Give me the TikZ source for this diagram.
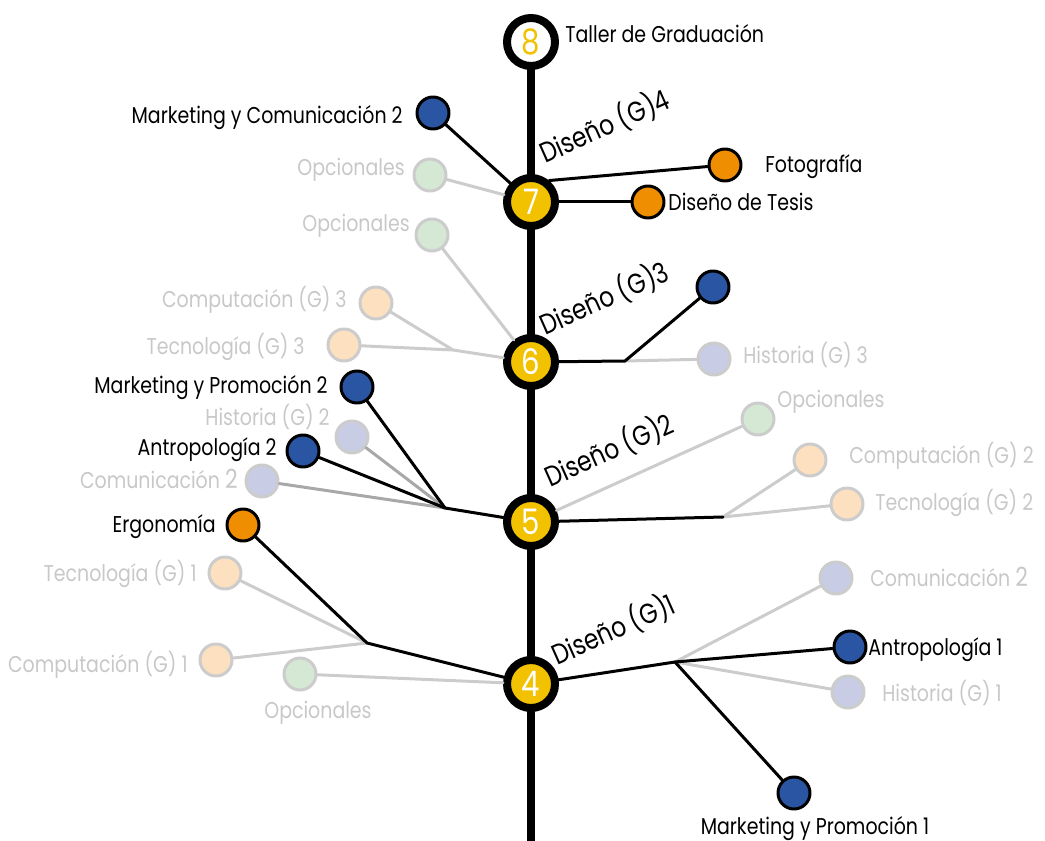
\documentclass[tikz,border=0pt]{standalone}
\usepackage{fontspec}
\setmainfont{Poppins}[FakeStretch=0.83]
\definecolor{amarillo}{HTML}{F2C200}
\definecolor{naranja}{HTML}{EE8E00}
\definecolor{azul}{HTML}{2A55A2}
\definecolor{verdeT}{HTML}{D5E8D4}
\definecolor{durazT}{HTML}{FCE0BF}
\definecolor{lilaT}{HTML}{C8CCE4}
\definecolor{grisL}{HTML}{CCCCCC}
\definecolor{grisT}{HTML}{C8C8C8}
\definecolor{grisM}{HTML}{A8A8A8}
\tikzset{
  semestre/.style={circle,draw=black,line width=0.16cm,fill=amarillo,minimum size=0.96cm,
    inner sep=0pt,text=white,font=\fontsize{20}{20}\selectfont},
  final/.style={semestre,fill=white,text=amarillo},
  activo/.style={circle,draw=black,line width=0.06cm,fill=#1,minimum size=0.64cm,inner sep=0pt},
  inactivo/.style={circle,draw=grisL,line width=0.06cm,fill=#1,minimum size=0.64cm,inner sep=0pt},
  negro/.style={inner sep=0pt,text=black,font=\fontsize{13}{15}\selectfont},
  tenue/.style={negro,text=grisT},
  diseno/.style={negro,rotate=24,anchor=base west,font=\fontsize{16}{18}\selectfont},
  tronco/.style={line width=0.16cm},
  rama/.style={line width=0.06cm},
  ramaT/.style={rama,draw=grisL},
  ramaM/.style={rama,draw=grisM}
}
\newcommand{\dos}{{\fontsize{15}{15}\selectfont 2}}

\begin{document}
\begin{tikzpicture}[x=0.02cm,y=-0.02cm,line cap=round,line join=round]
  \useasboundingbox (0,0) rectangle (1045,841);
  % semestres
  \node[final] (s8) at (531,42) {8};
  \node[semestre] (s7) at (531,202) {7};
  \node[semestre] (s6) at (531,362) {6};
  \node[semestre] (s5) at (531,522) {5};
  \node[semestre] (s4) at (531,684) {4};
  \coordinate (pie) at (531,841);
  \draw[tronco] (s8) -- (s7);
  \draw[tronco] (s7) -- (s6);
  \draw[tronco] (s6) -- (s5);
  \draw[tronco] (s5) -- (s4);
  \draw[tronco] (s4) -- (pie);

  % septimo
  \node[activo=azul] (mc2) at (433,113) {};
  \node[activo=naranja] (foto) at (725,165) {};
  \node[activo=naranja] (tesis) at (648,202) {};
  \node[inactivo=verdeT] (op7) at (430,175) {};
  \draw[ramaT] (op7) -- (s7);
  \draw[rama] (mc2) -- (s7);
  \draw[rama] (s7.50) -- (foto);
  \draw[rama] (s7) -- (tesis);

  % sexto
  \node[inactivo=verdeT] (op6) at (432,235) {};
  \node[inactivo=durazT] (cp3) at (376,303) {};
  \node[inactivo=durazT] (tc3) at (344,345) {};
  \node[activo=azul] (d6) at (713,287) {};
  \node[inactivo=lilaT] (hs3) at (714,359) {};
  \coordinate (j6l) at (453,350);
  \coordinate (j6r) at (625,361);
  \draw[ramaT] (op6) -- (s6);
  \draw[ramaT] (cp3) -- (j6l);
  \draw[ramaT] (tc3) -- (j6l) -- (s6);
  \draw[ramaT] (j6r) -- (hs3);
  \draw[rama] (s6) -- (j6r) -- (d6);

  % quinto
  \node[activo=azul] (mp2) at (357,387) {};
  \node[inactivo=lilaT] (hs2) at (352,437) {};
  \node[activo=azul] (an2) at (303,451) {};
  \node[inactivo=lilaT] (cm2) at (262,481) {};
  \node[inactivo=verdeT] (op5) at (758,419) {};
  \node[inactivo=durazT] (cp2) at (810,460) {};
  \node[inactivo=durazT] (tc2) at (847,504) {};
  \coordinate (j5l) at (445,508);
  \coordinate (j5r) at (723,517);
  \draw[ramaM] (hs2) -- (j5l);
  \draw[ramaM] (cm2) -- (j5l);
  \draw[rama] (mp2) -- (j5l);
  \draw[rama] (an2) -- (j5l) -- (s5);
  \draw[ramaT] (s5) -- (op5);
  \draw[ramaT] (j5r) -- (cp2);
  \draw[ramaT] (j5r) -- (tc2);
  \draw[rama] (s5) -- (j5r);

  % cuarto
  \node[activo=naranja] (erg) at (243,525) {};
  \node[inactivo=durazT] (tc1) at (225,573) {};
  \node[inactivo=durazT] (cp1) at (216,660) {};
  \node[inactivo=verdeT] (op4) at (300,674) {};
  \node[inactivo=lilaT] (cm1) at (836,578) {};
  \node[activo=azul] (an1) at (850,647) {};
  \node[inactivo=lilaT] (hs1) at (848,692) {};
  \node[activo=azul] (mp1) at (794,793) {};
  \coordinate (j4l) at (367,643);
  \coordinate (j4r) at (675,662);
  \draw[ramaT] (tc1) -- (j4l);
  \draw[ramaT] (cp1) -- (j4l);
  \draw[ramaT] (op4) -- (s4);
  \draw[rama] (erg) -- (j4l) -- (s4);
  \draw[ramaT] (j4r) -- (cm1);
  \draw[ramaT] (j4r) -- (hs1);
  \draw[rama] (s4) -- (j4r) -- (an1);
  \draw[rama] (j4r) -- (mp1);

  % textos
  \node[negro,anchor=base west] (tgrad) at (565,43) {Taller de Graduación};
  \node[negro,anchor=base east] (tmc2) at (403,124) {Marketing y Comunicación 2};
  \node[tenue,anchor=base east] (top7) at (405,176) {Opcionales};
  \node[negro,anchor=base west] (tfoto) at (765,173) {Fotografía};
  \node[negro,anchor=base west] (ttesis) at (668,211) {Diseño de Tesis};
  \node[tenue,anchor=base east] (top6) at (410,232) {Opcionales};
  \node[tenue,anchor=base east] (tcp3) at (347,308) {Computación (G) 3};
  \node[tenue,anchor=base east] (ttc3) at (305,355) {Tecnología (G) 3};
  \node[tenue,anchor=base west] (ths3) at (743,363) {Historia (G) 3};
  \node[negro,anchor=base east] (tmp2) at (328,393) {Marketing y Promoción 2};
  \node[tenue,anchor=base east] (ths2) at (330,425) {Historia (G) 2};
  \node[negro,anchor=base east] (tan2) at (277,455) {Antropología 2};
  \node[tenue,anchor=base east] (tcm2) at (238,488) {Comunicación \dos};
  \node[tenue,anchor=base west] (top5) at (777,407) {Opcionales};
  \node[tenue,anchor=base west] (tcp2) at (849,463) {Computación (G) 2};
  \node[tenue,anchor=base west] (ttc2) at (875,510) {Tecnología (G) 2};
  \node[negro,anchor=base east] (terg) at (216,532) {Ergonomía};
  \node[tenue,anchor=base east] (ttc1) at (197,581) {Tecnología (G) 1};
  \node[tenue,anchor=base east] (tcp1) at (188,672) {Computación (G) 1};
  \node[tenue,anchor=base] (top4) at (318,718) {Opcionales};
  \node[tenue,anchor=base west] (tcm1) at (870,586) {Comunicación \dos};
  \node[negro,anchor=base west] (tan1) at (868,655) {Antropología 1};
  \node[tenue,anchor=base west] (ths1) at (882,701) {Historia (G) 1};
  \node[negro,anchor=base] (tmp1) at (815,834) {Marketing y Promoción 1};
  \node[diseno] (dg4) at (545,164) {Diseño (G)4};
  \node[diseno] (dg3) at (545,336) {Diseño (G)3};
  \node[diseno] (dg2) at (550,488) {Diseño (G)2};
  \node[diseno] (dg1) at (557,666) {Diseño (G)1};
\end{tikzpicture}
\end{document}
